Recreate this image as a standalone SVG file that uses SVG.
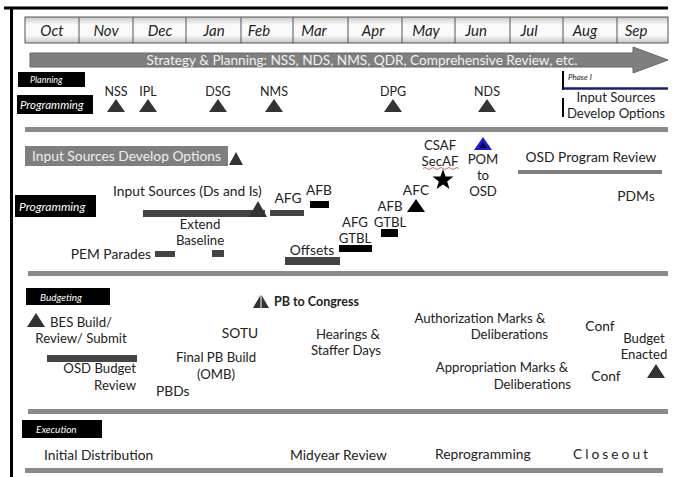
<svg xmlns="http://www.w3.org/2000/svg" width="673" height="477" viewBox="0 0 673 477">
<defs>
<linearGradient id="cell" x1="0" y1="0" x2="0" y2="1">
<stop offset="0" stop-color="#c8c8c8"/>
<stop offset="0.3" stop-color="#fafafa"/>
<stop offset="0.7" stop-color="#fafafa"/>
<stop offset="1" stop-color="#c8c8c8"/>
</linearGradient>
</defs>
<style>
text{font-family:Lato,"Open Sans","Liberation Sans",sans-serif;fill:#222;font-size:13.8px}
.m{font-style:italic;font-size:15px;text-anchor:middle}
.lbl{fill:#fff;font-style:italic}
.c{text-anchor:middle}
.e{text-anchor:end}
.s{font-size:13.2px}
.tri{fill:#333}
.sep{stroke:#8a8a8a;stroke-width:5}
.bar{fill:#444}
.blk{fill:#000}
</style>
<rect width="673" height="477" fill="#fff"/>
<g id="frame">
<line x1="4" y1="8" x2="668" y2="8" stroke="#000" stroke-width="3"/>
<line x1="11.5" y1="7" x2="11.5" y2="477" stroke="#000" stroke-width="3"/>
</g>
<g id="months">
<rect x="25" y="17" width="643" height="26" fill="url(#cell)" stroke="#555" stroke-width="1"/>
<g stroke="#555" stroke-width="1">
<line x1="79" y1="17" x2="79" y2="43"/><line x1="133" y1="17" x2="133" y2="43"/>
<line x1="186" y1="17" x2="186" y2="43"/><line x1="241" y1="17" x2="241" y2="43"/>
<line x1="293" y1="17" x2="293" y2="43"/><line x1="348" y1="17" x2="348" y2="43"/>
<line x1="402" y1="17" x2="402" y2="43"/><line x1="455" y1="17" x2="455" y2="43"/>
<line x1="510" y1="17" x2="510" y2="43"/><line x1="563" y1="17" x2="563" y2="43"/>
<line x1="617" y1="17" x2="617" y2="43"/>
</g>
<text class="m" x="52" y="36">Oct</text><text class="m" x="106" y="36">Nov</text>
<text class="m" x="160" y="36">Dec</text><text class="m" x="214" y="36">Jan</text>
<text class="m" x="259" y="36">Feb</text><text class="m" x="314" y="36">Mar</text>
<text class="m" x="373" y="36">Apr</text><text class="m" x="426" y="36">May</text>
<text class="m" x="476" y="36">Jun</text><text class="m" x="529" y="36">Jul</text>
<text class="m" x="585" y="36">Aug</text><text class="m" x="636" y="36">Sep</text>
</g>
<g id="strategy">
<polygon points="30,53 633,53 633,47 668,60 633,73 633,67 30,67" fill="#7f7f7f" stroke="#666" stroke-width="1"/>
<text x="362" y="65" class="c" style="fill:#f0f0f0;font-size:13.6px">Strategy &amp; Planning: NSS, NDS, NMS, QDR, Comprehensive Review, etc.</text>
</g>
<g id="planning-label"><rect x="18" y="72" width="67" height="15" fill="#000"/><text class="lbl" x="30" y="83" style="font-size:9px">Planning</text></g>
<g id="programming-label-1"><rect x="17" y="95" width="76" height="19" fill="#000"/><text class="lbl" x="20" y="109" style="font-size:11.5px">Programming</text></g>
<g id="nss"><text class="c" x="116" y="96" style="font-size:12.5px">NSS</text><polygon class="tri" points="107,112 116,99 125,112"/></g>
<g id="ipl"><text class="c" x="148" y="96" style="font-size:12.5px">IPL</text><polygon class="tri" points="139,112 148,99 157,112"/></g>
<g id="dsg"><text class="c" x="218" y="96" style="font-size:12.5px">DSG</text><polygon class="tri" points="209,112 218,99 227,112"/></g>
<g id="nms"><text class="c" x="274" y="96" style="font-size:12.5px">NMS</text><polygon class="tri" points="265,112 274,99 283,112"/></g>
<g id="dpg"><text class="c" x="393" y="96" style="font-size:12.5px">DPG</text><polygon class="tri" points="384,112 393,99 402,112"/></g>
<g id="nds"><text class="c" x="487" y="96" style="font-size:12.5px">NDS</text><polygon class="tri" points="478,112 487,99 496,112"/></g>
<g id="phase1">
<line x1="563" y1="71" x2="563" y2="90" stroke="#000" stroke-width="2"/>
<line x1="563" y1="88.5" x2="668" y2="88.5" stroke="#1a1a80" stroke-width="2.5"/>
<text x="568" y="80" style="font-size:8px;font-style:italic">Phase I</text>
<line x1="563" y1="98" x2="563" y2="117" stroke="#000" stroke-width="2"/>
<text class="c s" x="616" y="102">Input Sources</text>
<text class="c s" x="616" y="118">Develop Options</text>
</g>
<g id="separators">
<line class="sep" x1="25" y1="129.5" x2="668" y2="129.5"/>
<line class="sep" x1="28" y1="273.5" x2="668" y2="273.5"/>
<line class="sep" x1="28" y1="411.5" x2="668" y2="411.5"/>
<line class="sep" x1="25" y1="470.5" x2="663" y2="470.5"/>
</g>
<g id="input-sources-box">
<rect x="25" y="146" width="203" height="20" fill="#7f7f7f"/>
<text x="32" y="160.5" style="fill:#eee">Input Sources Develop Options</text>
<polygon class="tri" points="229,165 236,152 243,165"/>
</g>
<g id="programming-label-2"><rect x="15" y="195" width="81" height="22" fill="#000"/><text class="lbl" x="19" y="211" style="font-size:12px">Programming</text></g>
<g id="input-ds-is">
<text x="113" y="196">Input Sources (Ds and Is)</text>
<rect class="bar" x="143" y="210" width="122" height="7"/>
<polygon class="tri" points="249,217 258,201 267,217"/>
</g>
<g id="afg1"><text class="c" x="288" y="203">AFG</text><rect class="bar" x="270" y="210" width="34" height="6"/></g>
<g id="afb1"><text class="c" x="319" y="195">AFB</text><rect class="blk" x="310" y="201" width="19" height="7"/></g>
<g id="extend-baseline"><text class="c s" x="200" y="229">Extend</text><text class="c s" x="200" y="245">Baseline</text><rect class="bar" x="212" y="250" width="12" height="7"/></g>
<g id="pem-parades"><text class="e" x="151" y="259">PEM Parades</text><rect class="bar" x="155" y="251" width="20" height="6"/></g>
<g id="offsets"><text class="c" x="312" y="255">Offsets</text><rect class="bar" x="285" y="257" width="55" height="8"/></g>
<g id="afg2"><text class="c s" x="355" y="227">AFG</text><text class="c s" x="355" y="243">GTBL</text><rect class="blk" x="339" y="245" width="33" height="7"/></g>
<g id="afb2"><text class="c s" x="390" y="211">AFB</text><text class="c s" x="390" y="227">GTBL</text><rect class="blk" x="381" y="229" width="17" height="8"/></g>
<g id="afc"><text class="c" x="416" y="195">AFC</text><polygon class="blk" points="407,212 416,199 425,212"/></g>
<g id="csaf">
<text class="c s" x="440" y="150">CSAF</text>
<text class="c s" x="440" y="166">SecAF</text>
<path d="M423,168.5 q2,-2 4,0 t4,0 t4,0 t4,0 t4,0 t4,0 t4,0 t4,0 t4,0" fill="none" stroke="#d04040" stroke-width="0.8"/>
<polygon class="blk" points="443,169 445.6,176.4 453.5,176.6 447.2,181.4 449.5,189 443,184.5 436.5,189 438.8,181.4 432.5,176.6 440.4,176.4"/>
</g>
<g id="pom">
<polygon points="474,150 483,137 492,150" fill="#1a1adb"/>
<polygon points="479,148 483,142 487,148" fill="#000" opacity="0.7"/>
<text class="c s" x="483" y="164">POM</text><text class="c s" x="483" y="180">to</text><text class="c s" x="483" y="196">OSD</text>
</g>
<g id="osd-program-review"><text class="c" x="591" y="162">OSD Program Review</text><line x1="518" y1="172" x2="662" y2="172" stroke="#7f7f7f" stroke-width="4"/></g>
<g id="pdms"><text class="c" x="636" y="201">PDMs</text></g>
<g id="budgeting-label"><rect x="26" y="288" width="84" height="17" fill="#000"/><text class="lbl" x="40" y="300.5" style="font-size:10px">Budgeting</text></g>
<g id="pb-congress">
<polygon class="tri" points="253,308 260.5,295 260.5,308"/>
<polygon class="tri" points="261.5,308 261.5,295 269,308"/>
<text x="274" y="306" style="font-weight:bold;font-size:12.5px">PB to Congress</text>
</g>
<g id="bes">
<polygon class="tri" points="27,327 36,313 45,327"/>
<text class="s" x="50" y="327">BES Build/</text>
<text class="c s" x="81" y="343">Review/ Submit</text>
<rect class="bar" x="47" y="355" width="90" height="7"/>
<text class="e s" x="136" y="373">OSD Budget</text>
<text class="e s" x="136" y="390">Review</text>
</g>
<g id="pbds"><text x="156" y="396">PBDs</text></g>
<g id="sotu"><text class="c" x="240" y="338">SOTU</text></g>
<g id="final-pb"><text class="c s" x="216" y="362">Final PB Build</text><text class="c s" x="216" y="379">(OMB)</text></g>
<g id="hearings"><text class="c s" x="348" y="339">Hearings &amp;</text><text class="c s" x="346" y="355">Staffer Days</text></g>
<g id="authorization"><text class="c s" x="480" y="323">Authorization Marks &amp;</text><text class="e s" x="548" y="339">Deliberations</text></g>
<g id="conf1"><text class="c" x="600" y="331">Conf</text></g>
<g id="appropriation"><text class="c s" x="502" y="372">Appropriation Marks &amp;</text><text class="e s" x="571" y="389">Deliberations</text></g>
<g id="conf2"><text class="c" x="606" y="381">Conf</text></g>
<g id="budget-enacted"><text class="c s" x="644" y="343">Budget</text><text class="c s" x="644" y="359">Enacted</text><polygon class="tri" points="647,378 656,364 665,378"/></g>
<g id="execution-label"><rect x="22" y="420" width="80" height="18" fill="#000"/><text class="lbl" x="36" y="433" style="font-size:10px">Execution</text></g>
<g id="execution">
<text x="44" y="460">Initial Distribution</text>
<text x="290" y="460">Midyear Review</text>
<text x="435" y="459">Reprogramming</text>
<text x="573" y="459" style="letter-spacing:3px">Closeout</text>
</g>
</svg>
